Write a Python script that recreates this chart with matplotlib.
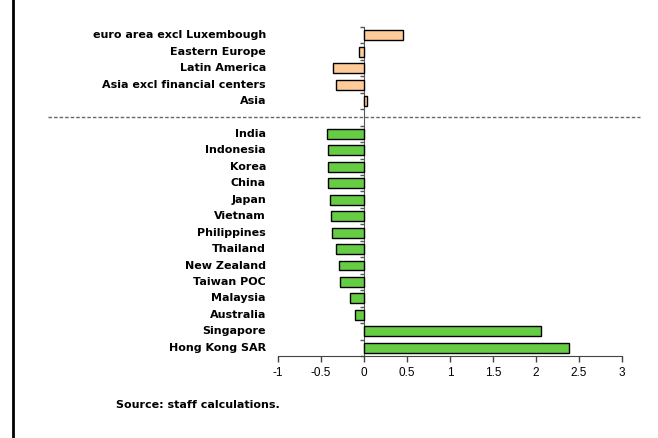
import matplotlib
matplotlib.use("Agg")
import matplotlib.pyplot as plt
from matplotlib.lines import Line2D
import numpy as np

# Data (top to bottom)
regions = ['euro area excl Luxembough', 'Eastern Europe', 'Latin America',
           'Asia excl financial centers', 'Asia']
region_vals = [0.45, -0.06, -0.36, -0.33, 0.03]

countries = ['India', 'Indonesia', 'Korea', 'China', 'Japan', 'Vietnam',
             'Philippines', 'Thailand', 'New Zealand', 'Taiwan POC',
             'Malaysia', 'Australia', 'Singapore', 'Hong Kong SAR']
country_vals = [-0.43, -0.42, -0.42, -0.415, -0.40, -0.38, -0.37,
                -0.33, -0.29, -0.28, -0.16, -0.11, 2.06, 2.38]

xticks = [-1, -0.5, 0, 0.5, 1, 1.5, 2, 2.5, 3]
xticklabels = ['-1', '-0.5', '0', '0.5', '1', '1.5', '2', '2.5', '3']

# positions: countries at bottom, one blank slot, then regions
n_c = len(countries)
country_pos = np.arange(n_c)[::-1]
gap_pos = n_c
region_pos = np.arange(n_c + 1, n_c + 1 + len(regions))[::-1]

fig = plt.figure(figsize=(6.58, 4.38), dpi=100)
ax = fig.add_axes([278/658, 1-356/438, 344/658, 329/438])

ax.barh(region_pos, region_vals, height=0.6, color='#FFCC99',
        edgecolor='black', linewidth=1, zorder=3)
ax.barh(country_pos, country_vals, height=0.6, color='#66CC44',
        edgecolor='black', linewidth=1, zorder=3)

ax.set_xlim(-1, 3)
ax.set_ylim(-0.5, region_pos.max() + 0.5)

# spines
for s in ['top', 'right']:
    ax.spines[s].set_visible(False)
ax.spines['left'].set_position(('data', 0))
ax.spines['left'].set_color('#555555')
ax.spines['bottom'].set_color('#444444')

ax.set_xticks(xticks)
ax.set_xticklabels(xticklabels, fontfamily='Liberation Sans', fontsize=8.5)
ax.tick_params(axis='x', length=4, width=1, color='#444444', pad=4)

ax.set_yticks(np.arange(-0.5, region_pos.max() + 1, 1))
ax.set_yticklabels([])
ax.tick_params(axis='y', length=3, width=1, color='#555555')

# category labels
tr = ax.get_yaxis_transform()
for name, p in list(zip(regions, region_pos)) + list(zip(countries, country_pos)):
    ax.text(-0.035, p, name, transform=tr, ha='right', va='center',
            fontsize=8, fontweight='bold')

# dotted separator line
ax.plot([-(278-48)/344, (640-278)/344], [gap_pos, gap_pos], transform=tr,
        color='#666666', linestyle=(0, (2.5, 1.5)), linewidth=1, clip_on=False)

# source note
fig.text(116/658, 1-405/438, 'Source: staff calculations.', fontsize=8,
         fontweight='bold', ha='left', va='center')

# left border line
fig.add_artist(Line2D([13/658, 13/658], [0, 1], color='black', linewidth=2,
                      transform=fig.transFigure))

fig.savefig('out.png', dpi=100)
